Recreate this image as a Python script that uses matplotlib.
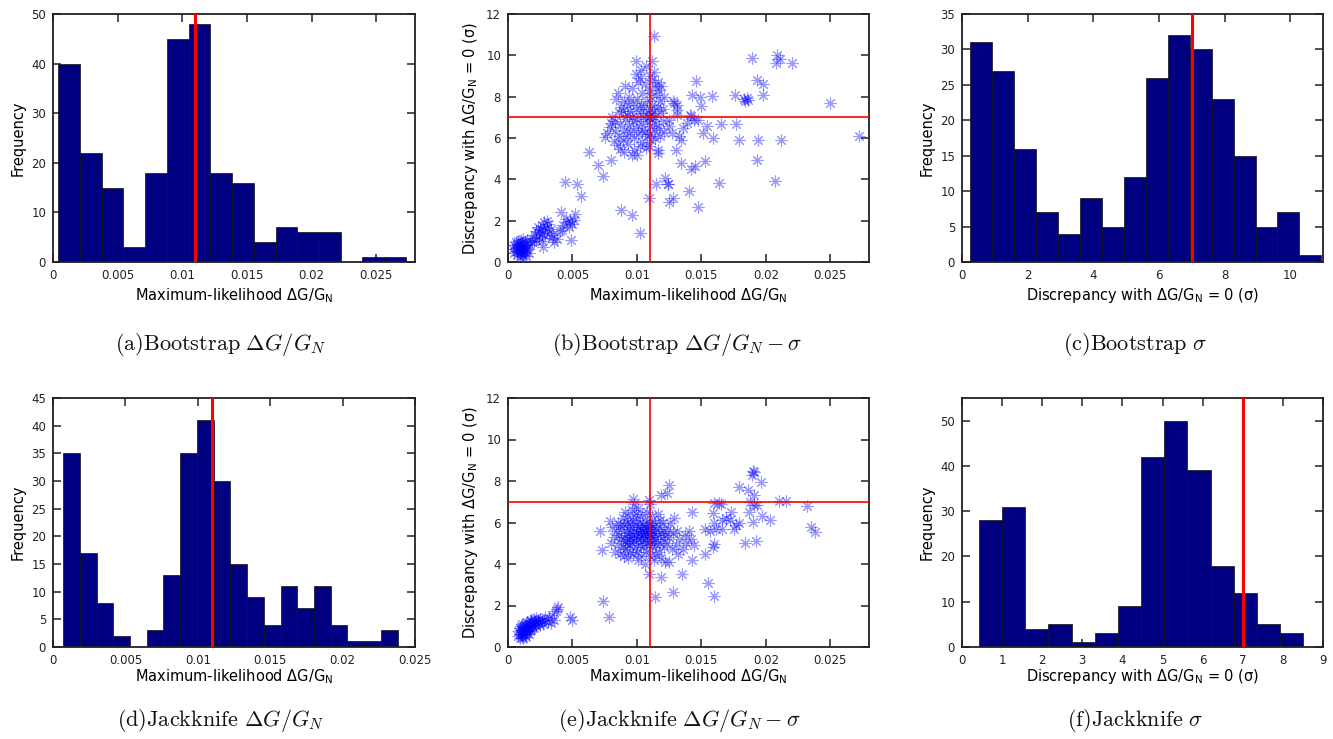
import numpy as np
import matplotlib
matplotlib.use("Agg")
import matplotlib.pyplot as plt
from matplotlib.ticker import FuncFormatter

# ---------------- data ----------------
# (a) Bootstrap dG/G histogram
a_counts = [40, 22, 15, 3, 18, 45, 48, 18, 16, 4, 7, 6, 6, 0, 1, 1]
a_range = (0.0004, 0.0273)
# (c) Bootstrap sigma histogram
c_counts = [31, 27, 16, 7, 4, 9, 5, 12, 26, 32, 30, 23, 15, 5, 7, 1]
c_range = (0.255, 10.95)
# (d) Jackknife dG/G histogram
d_counts = [35, 17, 8, 2, 0, 3, 13, 35, 41, 30, 15, 9, 4, 11, 7, 11, 4, 1, 1, 3]
d_range = (0.0007, 0.0238)
# (f) Jackknife sigma histogram
f_counts = [28, 31, 4, 5, 1, 3, 9, 42, 50, 39, 18, 12, 5, 3]
f_range = (0.42, 8.51)

ref_dg = 0.011
ref_sigma = 7.0

# (b) Bootstrap scatter: maximum-likelihood dG/G vs discrepancy (sigma)
b_x = [
    # low cluster
    0.0004, 0.0005, 0.0005, 0.0006, 0.0006, 0.0007, 0.0007, 0.0007, 0.0008, 0.0008,
    0.0008, 0.0009, 0.0009, 0.0009, 0.0009, 0.0010, 0.0010, 0.0010, 0.0010, 0.0011,
    0.0011, 0.0011, 0.0011, 0.0012, 0.0012, 0.0012, 0.0012, 0.0013, 0.0013, 0.0013,
    0.0014, 0.0014, 0.0014, 0.0015, 0.0015, 0.0016, 0.0017, 0.0018, 0.0019, 0.0020,
    0.0021, 0.0022, 0.0022, 0.0023, 0.0024, 0.0024, 0.0025, 0.0026, 0.0026, 0.0027,
    0.0027, 0.0028, 0.0028, 0.0029, 0.0030, 0.0030, 0.0031, 0.0032, 0.0033, 0.0034,
    0.0035, 0.0036,
    0.0038, 0.0040, 0.0041, 0.0042, 0.0043, 0.0044, 0.0045, 0.0046, 0.0047, 0.0048,
    0.0049, 0.0050, 0.0051, 0.0052, 0.00535,
    0.0057, 0.0063, 0.0070,
    # main cluster
    0.0074, 0.0080, 0.0088, 0.0096, 0.0102,
    0.0075, 0.0077, 0.0079, 0.0080, 0.0081, 0.0082, 0.0083, 0.0083, 0.0084, 0.0085,
    0.0085, 0.0086, 0.0086, 0.0087, 0.0087, 0.00875,
    0.0089, 0.0089, 0.0090, 0.0090, 0.0090, 0.0091, 0.0091, 0.0092, 0.0092, 0.0093,
    0.0093, 0.0094, 0.0094, 0.0095, 0.0095, 0.0096, 0.0096, 0.0096, 0.0097, 0.0097,
    0.0098, 0.0098, 0.0099, 0.0099, 0.0099, 0.0100, 0.0100, 0.0100, 0.0101, 0.0101,
    0.0102, 0.0102, 0.0102, 0.0103, 0.0103, 0.0103, 0.0104, 0.0104, 0.0104, 0.0105,
    0.0105, 0.0099,
    0.0106, 0.0106, 0.0107, 0.0107, 0.0107, 0.0108, 0.0108, 0.0108, 0.0109, 0.0109,
    0.0109, 0.0110, 0.0110, 0.0110, 0.0110, 0.0111, 0.0111, 0.0111, 0.0112, 0.0112,
    0.0112, 0.0113, 0.0113, 0.0113, 0.0114, 0.0114, 0.0114, 0.0115, 0.0115, 0.0116,
    0.0116, 0.0116, 0.0117, 0.0117, 0.0118, 0.0118, 0.0119, 0.0119, 0.0120, 0.0120,
    0.0121, 0.0121,
    0.0113, 0.0112, 0.0116, 0.0115, 0.0122, 0.0109,
    0.0129, 0.0128, 0.0125, 0.0124, 0.0131, 0.0131, 0.0136, 0.0133, 0.0131, 0.0127,
    0.0125, 0.0134, 0.0130, 0.0134, 0.0124, 0.0128, 0.0125,
    # right side
    0.0146, 0.0143, 0.0149, 0.0150, 0.0141, 0.0147, 0.0154, 0.0139, 0.0151, 0.0142,
    0.0145, 0.0153, 0.0140, 0.0147, 0.0142, 0.0144,
    0.0158, 0.0159, 0.0165, 0.0164,
    0.0176, 0.0183, 0.0184, 0.0185, 0.0186, 0.0177, 0.0179,
    0.0189, 0.0193, 0.0198, 0.0198, 0.0194, 0.0193,
    0.0209, 0.0211, 0.0208, 0.0220, 0.0212, 0.0207,
    0.0250, 0.0272,
]
b_y = [
    0.62, 0.80, 0.45, 0.70, 0.95, 0.55, 0.35, 0.85, 0.62, 0.75,
    1.00, 0.30, 0.50, 0.68, 0.88, 0.40, 0.60, 0.78, 1.05, 0.28,
    0.55, 0.72, 0.93, 0.35, 0.62, 0.82, 1.10, 0.48, 0.70, 0.95,
    0.30, 0.58, 0.85, 0.65, 1.00, 0.45, 0.80, 1.15, 0.98, 1.00,
    1.30, 1.50, 1.05, 1.70, 1.20, 1.45, 1.60, 1.00, 1.35, 1.75,
    0.75, 1.55, 1.95, 1.25, 1.65, 2.00, 1.85, 1.40, 1.60, 1.15,
    1.30, 0.95,
    1.10, 1.50, 2.40, 1.55, 1.80, 3.85, 2.10, 1.95, 1.70, 2.00,
    1.08, 1.85, 2.05, 2.30, 3.77,
    3.18, 5.31, 4.68,
    4.15, 4.95, 2.53, 2.29, 1.40,
    6.05, 6.25, 6.55, 6.75, 7.00, 5.85, 6.35, 6.80, 7.90, 8.20,
    5.65, 6.10, 7.25, 5.45, 6.70, 7.50,
    5.90, 7.30, 6.40, 7.80, 5.30, 6.90, 8.50, 7.10, 6.10, 7.60,
    5.70, 6.60, 8.00, 7.30, 6.30, 5.20, 7.00, 8.40, 6.80, 7.70,
    6.00, 5.40, 7.40, 6.50, 9.10, 7.90, 5.20, 6.90, 8.70, 6.20,
    7.20, 5.60, 8.90, 6.70, 7.60, 9.30, 6.40, 8.20, 5.80, 7.00,
    7.50, 9.71,
    6.30, 8.60, 7.20, 5.50, 9.50, 6.80, 7.80, 6.10, 8.30, 7.00,
    5.60, 6.60, 7.40, 9.00, 6.20, 8.00, 7.10, 5.90, 6.90, 8.80,
    7.60, 6.40, 9.20, 7.30, 8.50, 6.00, 7.00, 8.10, 6.70, 7.50,
    8.70, 5.40, 6.50, 8.30, 7.80, 6.10, 7.20, 8.50, 6.80, 7.40,
    6.30, 8.00,
    10.95, 9.74, 5.27, 3.79, 4.06, 3.10,
    7.69, 7.77, 6.89, 3.77, 7.60, 7.37, 6.48, 6.08, 7.13, 6.24,
    6.56, 5.92, 5.44, 4.79, 3.77, 3.10, 2.90,
    8.74, 8.06, 7.98, 7.53, 7.13, 6.89, 6.60, 6.73, 6.24, 7.05,
    4.63, 4.90, 3.42, 2.66, 4.52, 6.85,
    8.02, 6.00, 6.68, 3.82,
    8.06, 7.89, 7.80, 7.95, 7.85, 6.69, 5.92,
    9.85, 8.82, 8.63, 8.10, 5.92, 4.95,
    10.00, 9.84, 9.63, 9.63, 5.92, 3.94,
    7.69, 6.08,
]

# (e) Jackknife scatter
e_x = [
    # low cluster
    0.0008, 0.0008, 0.0009, 0.0009, 0.0009, 0.0010, 0.0010, 0.0010, 0.0011, 0.0011,
    0.0011, 0.0011, 0.0012, 0.0012, 0.0012, 0.0012, 0.0013, 0.0013, 0.0013, 0.0014,
    0.0014, 0.0014, 0.0014, 0.0015, 0.0015, 0.0015, 0.0016, 0.0016, 0.0016, 0.0017,
    0.0017, 0.0017, 0.0018, 0.0018, 0.0018,
    0.0019, 0.0019, 0.0020, 0.0020, 0.0021, 0.0021, 0.0022, 0.0022, 0.0023, 0.0023,
    0.0024, 0.0025, 0.0025, 0.0026, 0.0027, 0.0028, 0.0029,
    0.0031, 0.0032, 0.0033, 0.0034, 0.0036, 0.0037, 0.0038, 0.0039,
    0.0048, 0.0050,
    0.0071, 0.0073, 0.0074, 0.0078,
    # main cluster
    0.0079, 0.0080, 0.0081, 0.0082, 0.0083, 0.0084, 0.0085, 0.0085, 0.0086, 0.0087,
    0.0087, 0.00875,
    0.0088, 0.0089, 0.0089, 0.0090, 0.0090, 0.0090, 0.0091, 0.0091, 0.0091, 0.0092,
    0.0092, 0.0092, 0.0093, 0.0093, 0.0093, 0.0094, 0.0094, 0.0094, 0.0095, 0.0095,
    0.0095, 0.0096, 0.0096, 0.0096, 0.0097, 0.0097, 0.0097, 0.0098, 0.0098, 0.0098,
    0.0099, 0.0099, 0.0099, 0.0099, 0.0097,
    0.0100, 0.0100, 0.0100, 0.0101, 0.0101, 0.0101, 0.0102, 0.0102, 0.0102, 0.0103,
    0.0103, 0.0103, 0.0104, 0.0104, 0.0104, 0.0105, 0.0105, 0.0105, 0.0106, 0.0106,
    0.0106, 0.0107, 0.0107, 0.0107, 0.0108, 0.0108, 0.0108, 0.0108, 0.0109, 0.0109,
    0.0109, 0.0110, 0.0110, 0.0110, 0.0110, 0.0110, 0.0110, 0.0101, 0.0106, 0.0109,
    0.0109,
    0.0111, 0.0111, 0.0112, 0.0112, 0.0112, 0.0113, 0.0113, 0.0114, 0.0114, 0.0114,
    0.0115, 0.0115, 0.0116, 0.0116, 0.0117, 0.0117, 0.0118, 0.0118, 0.0119, 0.0119,
    0.0120, 0.0120, 0.0121, 0.0121, 0.0122, 0.0122, 0.0113, 0.0114, 0.0119, 0.0119,
    0.0123, 0.0124, 0.0125, 0.0125, 0.0126, 0.0127, 0.0128, 0.0129, 0.0130, 0.0131,
    0.0132, 0.0133, 0.0128, 0.0125, 0.0123,
    0.0135, 0.0136, 0.0137, 0.0138, 0.0140, 0.0142, 0.0144, 0.0143, 0.0143,
    # right side
    0.0153, 0.0155, 0.0153, 0.0157,
    0.0160, 0.0164, 0.0159, 0.0160, 0.0166, 0.0159, 0.0160, 0.0160, 0.0166, 0.0165,
    0.0161,
    0.0179, 0.0173, 0.0169, 0.0175, 0.0179, 0.0172, 0.0177,
    0.0190, 0.0191, 0.0189, 0.0186, 0.0191, 0.0188, 0.0191, 0.0190, 0.0187, 0.0192,
    0.0184,
    0.0196, 0.0203, 0.0193, 0.0197,
    0.0210, 0.0216, 0.0232, 0.0235, 0.0238,
]
e_y = [
    0.75, 0.55, 0.90, 0.65, 0.45, 0.80, 0.60, 1.00, 0.70, 0.50,
    0.88, 1.10, 0.65, 0.80, 0.45, 0.98, 0.75, 0.58, 1.05, 0.85,
    0.68, 1.15, 0.50, 0.95, 0.78, 1.20, 0.88, 0.62, 1.08, 0.98,
    0.75, 1.25, 1.10, 0.85, 1.30,
    1.00, 1.20, 0.90, 1.35, 1.10, 1.25, 1.40, 1.00, 1.15, 1.30,
    1.20, 1.05, 1.35, 1.25, 1.10, 1.30, 1.45,
    1.20, 1.40, 1.15, 1.55, 1.30, 1.75, 1.85, 1.95,
    1.45, 1.29,
    5.60, 4.67, 2.21, 1.45,
    6.05, 5.00, 5.80, 5.30, 4.60, 5.60, 6.00, 4.90, 5.40, 4.50,
    5.90, 5.20,
    5.70, 4.80, 6.20, 5.30, 4.40, 5.90, 5.10, 6.50, 4.70, 5.50,
    6.00, 5.00, 4.30, 5.70, 6.30, 5.20, 4.90, 5.50, 6.00, 4.60,
    5.30, 5.80, 5.00, 6.60, 4.50, 5.40, 6.10, 5.10, 5.60, 6.90,
    4.80, 5.90, 5.30, 6.40, 7.12,
    5.50, 4.60, 6.20, 5.20, 5.80, 6.70, 4.90, 5.50, 6.00, 5.30,
    5.70, 4.40, 5.60, 6.40, 5.10, 5.40, 5.90, 4.80, 5.60, 5.20,
    6.10, 5.50, 5.80, 4.60, 5.30, 5.70, 6.50, 5.00, 5.50, 5.90,
    4.90, 5.40, 5.70, 6.00, 5.10, 4.40, 6.90, 4.20, 4.00, 7.08,
    3.52,
    5.30, 5.90, 4.80, 5.60, 6.30, 5.10, 5.50, 4.50, 6.00, 5.20,
    5.70, 4.90, 6.40, 5.40, 4.60, 5.80, 5.00, 6.10, 5.50, 4.30,
    5.20, 6.00, 4.80, 5.60, 4.10, 5.40, 4.20, 2.42, 3.38, 7.33,
    5.00, 5.70, 4.10, 5.30, 6.00, 4.70, 5.50, 6.20, 4.90, 5.60,
    4.50, 5.20, 2.66, 7.81, 7.44,
    3.54, 4.70, 5.40, 5.00, 5.60, 5.20, 4.90, 6.49, 4.19,
    4.47, 3.07, 5.67, 5.60,
    6.92, 6.92, 6.44, 5.96, 5.67, 4.83, 4.95, 2.46, 6.10, 6.90,
    5.70,
    7.73, 6.52, 6.20, 5.67, 6.00, 6.10, 5.90,
    8.50, 8.42, 8.29, 7.57, 7.33, 7.00, 6.84, 6.04, 6.52, 5.10,
    5.00,
    7.97, 6.12, 6.85, 6.30,
    7.05, 7.05, 6.80, 5.80, 5.56,
]

# ---------------- style ----------------
plt.rcParams['font.family'] = ['DejaVu Sans']
NAVY = '#000080'
TICK_FS = 8.5
LAB_FS = 10.5

fig = plt.figure(figsize=(13.33, 7.39), dpi=100)
W, H = 1333.0, 739.0


def make_ax(l, r, t, b):
    return fig.add_axes([l / W, (H - b) / H, (r - l) / W, (b - t) / H])


def style(ax):
    ax.tick_params(direction='in', top=True, right=True, length=6, width=1.1,
                   labelsize=TICK_FS, pad=5, colors='#222222', labelcolor='#222222')
    for s in ax.spines.values():
        s.set_linewidth(1.3)
        s.set_color('#222222')


gfmt = FuncFormatter(lambda v, p: '%g' % round(v, 6))

ML = r'Maximum-likelihood $\Delta$G/G$_\mathrm{N}$'
DS = 'Discrepancy with $\\Delta$G/G$_\\mathrm{N}$ = 0 (\u03c3)'


def hist(ax, counts, rng, xlim, xticks, ylim, yticks, vline, xlabel, lpad):
    edges = np.linspace(rng[0], rng[1], len(counts) + 1)
    ax.bar(edges[:-1], counts, width=np.diff(edges), align='edge', color=NAVY,
           edgecolor='#111111', linewidth=0.5, zorder=2)
    ax.axvline(vline, color='red', lw=2.2, zorder=3)
    ax.set_xlim(*xlim)
    ax.set_ylim(*ylim)
    ax.set_xticks(xticks)
    ax.set_yticks(yticks)
    ax.xaxis.set_major_formatter(gfmt)
    ax.set_ylabel('Frequency', fontsize=LAB_FS)
    ax.set_xlabel(xlabel, fontsize=LAB_FS, labelpad=lpad)
    style(ax)


def scat(ax, x, y, lpad):
    ax.plot(x, y, linestyle='none', marker=(8, 2, 0), ms=8.5, mew=0.8,
            color='blue', alpha=0.4, zorder=2)
    ax.axvline(ref_dg, color='red', lw=1.2, zorder=3)
    ax.axhline(ref_sigma, color='red', lw=1.2, zorder=3)
    ax.set_xlim(0, 0.028)
    ax.set_ylim(0, 12)
    ax.set_xticks([0, 0.005, 0.01, 0.015, 0.02, 0.025])
    ax.set_yticks(range(0, 13, 2))
    ax.xaxis.set_major_formatter(gfmt)
    ax.set_ylabel(DS, fontsize=LAB_FS)
    ax.set_xlabel(ML, fontsize=LAB_FS, labelpad=lpad)
    style(ax)


dg_ticks = [0, 0.005, 0.01, 0.015, 0.02, 0.025]

ax_a = make_ax(53, 415, 14, 262)
hist(ax_a, a_counts, a_range, (0, 0.028), dg_ticks, (0, 50), range(0, 51, 10), ref_dg, ML, 3)

ax_b = make_ax(508, 869, 14, 262)
scat(ax_b, b_x, b_y, 3)

ax_c = make_ax(962, 1323, 14, 262)
hist(ax_c, c_counts, c_range, (0, 11), range(0, 11, 2), (0, 35), range(0, 36, 5), ref_sigma, DS, 3)

ax_d = make_ax(53, 415, 398, 647)
hist(ax_d, d_counts, d_range, (0, 0.025), dg_ticks, (0, 45), range(0, 46, 5), ref_dg, ML, 0)

ax_e = make_ax(508, 869, 398, 647)
scat(ax_e, e_x, e_y, 0)

ax_f = make_ax(962, 1323, 398, 647)
hist(ax_f, f_counts, f_range, (0, 9), range(0, 10), (0, 55), range(0, 51, 10), ref_sigma, DS, 0)

captions = [
    (221, 345, r'$\mathrm{(a)Bootstrap}\ \Delta G/G_N$'),
    (677, 345, r'$\mathrm{(b)Bootstrap}\ \Delta G/G_N-\sigma$'),
    (1135, 345, r'$\mathrm{(c)Bootstrap}\ \sigma$'),
    (221, 720, r'$\mathrm{(d)Jackknife}\ \Delta G/G_N$'),
    (679, 720, r'$\mathrm{(e)Jackknife}\ \Delta G/G_N-\sigma$'),
    (1135, 720, r'$\mathrm{(f)Jackknife}\ \sigma$'),
]
for cx, cy, txt in captions:
    fig.text(cx / W, (H - cy) / H, txt, ha='center', va='center', fontsize=16,
             math_fontfamily='cm', color='#111111')

fig.savefig('out.png', dpi=100)
